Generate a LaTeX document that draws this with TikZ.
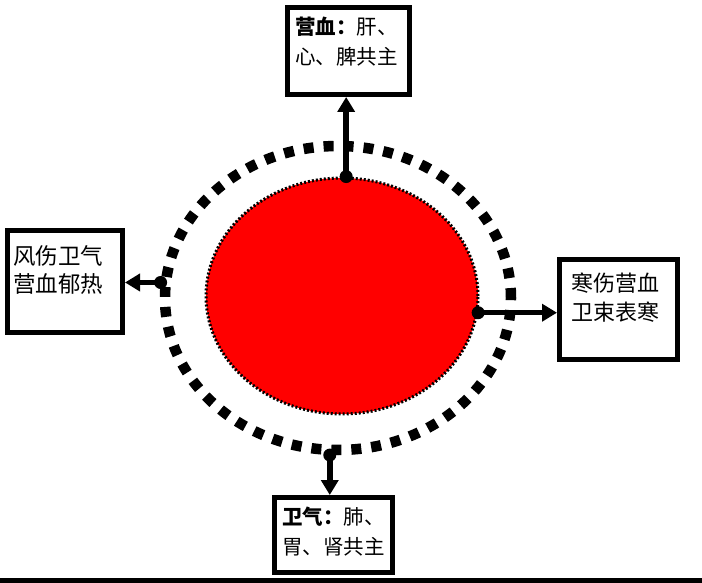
\documentclass[tikz,border=0pt]{standalone}
\usepackage{fontspec}
\usepackage{tikz}
\usepackage{xcolor}
\usetikzlibrary{shapes.geometric,arrows.meta}
\newfontfamily\cjk{Noto Sans CJK SC}

\begin{document}
\begin{tikzpicture}[x=1pt,y=-1pt,
  every node/.style={font=\cjk\fontsize{20.5}{30}\selectfont},
  box/.style={draw,line width=5pt,rectangle,inner sep=0pt},
  txt/.style={anchor=north west,align=left,inner sep=0pt},
  link/.style={line width=5.5pt,-{Triangle[length=15pt,width=17pt]}}]
\useasboundingbox (0,0) rectangle (702,583);
% circles
\node[ellipse,draw,line width=10.5pt,dash pattern=on 10pt off 10pt,
  minimum width=346pt,minimum height=304pt,inner sep=0pt] (ring) at (338,298) {};
\node[ellipse,fill=red,draw=black,line width=3pt,dash pattern=on 2pt off 2pt,
  minimum width=272pt,minimum height=236pt,inner sep=0pt] (core) at (342,296) {};
% boxes
\node[box,minimum width=122pt,minimum height=87pt] (ying) at (348.5,51) {};
\node[box,minimum width=115pt,minimum height=102pt] (feng) at (65,281.5) {};
\node[box,minimum width=118pt,minimum height=100pt] (han) at (618.5,309.5) {};
\node[box,minimum width=118pt,minimum height=75pt] (wei) at (333.5,535) {};
% texts
\node[txt,xshift=10pt,yshift=-12pt] (yingt) at (ying.north west) {\textbf{营血：}肝、\\心、脾共主};
\node[txt,xshift=8pt,yshift=-17pt,font=\cjk\fontsize{22.5}{28}\selectfont] (fengt) at (feng.north west) {风伤卫气\\营血郁热};
\node[txt,xshift=14pt,yshift=-16pt,font=\cjk\fontsize{22}{29}\selectfont] (hant) at (han.north west) {寒伤营血\\卫束表寒};
\node[txt,xshift=10pt,yshift=-12pt] (weit) at (wei.north west) {\textbf{卫气：}肺、\\胃、肾共主};
% links
\fill (core.88) circle (6.5pt);
\draw[link] (core.88) -- (core.88 |- ying.south);
\fill (ring.175) circle (6.5pt);
\draw[link] (ring.175) -- (feng.east |- ring.175);
\fill (core.-7) circle (6.5pt);
\draw[link] (core.-7) -- (han.west |- core.-7);
\fill (ring.267) circle (6.5pt);
\draw[link] (ring.267) -- (ring.267 |- wei.north);
% base line
\fill (0,578) rectangle (702,583);
\end{tikzpicture}
\end{document}
